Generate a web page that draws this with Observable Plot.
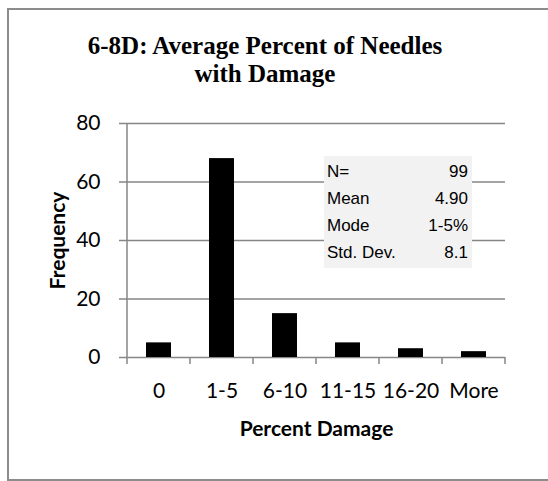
<!DOCTYPE html>
<html>
<head>
<meta charset="utf-8">
<script src="https://cdn.jsdelivr.net/npm/d3@7"></script>
<script src="https://cdn.jsdelivr.net/npm/@observablehq/plot@0.6"></script>
<style>
  html, body { margin: 0; padding: 0; background: #fff; overflow: hidden; }
  #wrap { position: relative; width: 548px; height: 481px; overflow: hidden; }
  #border { position: absolute; left: 7px; top: 8px; width: 600px; height: 473px; border: 2px solid #8c8c8c; box-sizing: border-box; }
  #title { position: absolute; left: 0; top: 32px; width: 530px; text-align: center;
           font-family: "Liberation Serif", "Times New Roman", serif; font-weight: bold; font-size: 25px; line-height: 28px; color: #000; }
  #stats { position: absolute; left: 324px; top: 156px; width: 148px; height: 112px; background: #f2f2f2;
           font-family: "Liberation Sans Narrow", "Arial Narrow", "Liberation Sans", sans-serif; font-stretch: condensed; font-size: 17px; color: #000;
           box-sizing: border-box; padding: 2px 4px 0 3px; }
  #stats .row { display: flex; justify-content: space-between; height: 27px; line-height: 27px; }
  #chart { position: absolute; left: 0; top: 0; }
</style>
</head>
<body>
<div id="wrap">
  <div id="border"></div>
  <div id="chart"></div>
  <div id="title"></div>
  <div id="stats"></div>
</div>
<script>
const categories = ["0", "1-5", "6-10", "11-15", "16-20", "More"];
const frequencies = [5, 68, 15, 5, 3, 2];
const yTicks = [0, 20, 40, 60, 80];
const titleLines = ["6-8D: Average Percent of Needles", "with Damage"];
const xTitle = "Percent Damage";
const yTitle = "Frequency";
const statLabels = ["N=", "Mean", "Mode", "Std. Dev."];
const statValues = ["99", "4.90", "1-5%", "8.1"];

const data = categories.map((c, i) => ({cat: c, count: frequencies[i]}));
const gridColor = "#868686";

document.getElementById("title").innerHTML = titleLines.join("<br>");
document.getElementById("stats").innerHTML = statLabels
  .map((l, i) => `<div class="row"><span>${l}</span><span>${statValues[i]}</span></div>`).join("");

const boundaryTicks = (index, scales, values, dimensions) => {
  const g = d3.create("svg:g").attr("stroke", gridColor).attr("stroke-width", 1.5);
  const x = scales.x;
  const gap = (x.step() - x.bandwidth()) / 2;
  const y0 = scales.y(0);
  const xs = categories.map(c => x(c) - gap);
  xs.push(x(categories[categories.length - 1]) + x.bandwidth() + gap);
  for (const xv of xs) {
    g.append("line").attr("x1", xv).attr("x2", xv).attr("y1", y0).attr("y2", y0 + 7);
  }
  g.append("line").attr("x1", xs[0]).attr("x2", xs[0])
    .attr("y1", scales.y(yTicks[yTicks.length - 1])).attr("y2", y0);
  return g.node();
};

const chart = Plot.plot({
  width: 548,
  height: 481,
  marginLeft: 127,
  marginRight: 43,
  marginTop: 123,
  marginBottom: 124,
  style: {fontFamily: "Lato, 'Open Sans', sans-serif", fontSize: "21px", background: "transparent", color: "#000"},
  x: {domain: categories, paddingInner: 0.6, paddingOuter: 0.3, label: null},
  y: {domain: [0, 80], label: null},
  marks: [
    Plot.ruleY(yTicks, {stroke: gridColor, strokeWidth: 1.5}),
    Plot.axisY({ticks: yTicks, tickSize: 8, tickPadding: 19, stroke: gridColor, strokeWidth: 1.5, fill: "#000", label: null}),
    Plot.axisX({tickSize: 0, tickPadding: 26, fill: "#000", label: null}),
    Plot.barY(data, {x: "cat", y: "count", fill: "#000"}),
    boundaryTicks,
    Plot.text([xTitle], {frameAnchor: "bottom", dy: 78, text: d => d, fontWeight: "bold", fontSize: 21}),
    Plot.text([yTitle], {frameAnchor: "left", textAnchor: "middle", dx: -69, rotate: -90, text: d => d, fontWeight: "bold", fontSize: 21})
  ]
});
document.getElementById("chart").appendChild(chart);
</script>
</body>
</html>
